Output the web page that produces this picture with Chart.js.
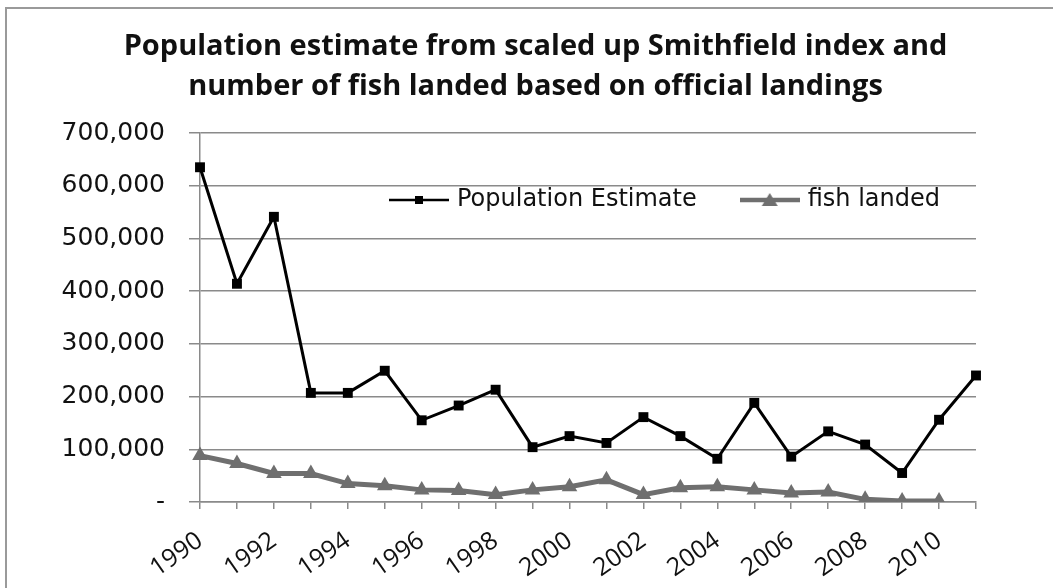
<!DOCTYPE html>
<html>
<head>
<meta charset="utf-8">
<script src="https://cdn.jsdelivr.net/npm/chart.js@4.4.1/dist/chart.umd.min.js"></script>
<style>
  html, body { margin: 0; padding: 0; background: #fff; }
  #wrap { position: relative; width: 1053px; height: 588px; overflow: hidden; }
  #frame { position: absolute; left: 5px; top: 7px; width: 1100px; height: 700px;
           border-left: 2px solid #9a9a9a; border-top: 2px solid #9a9a9a; }
  canvas { position: absolute; left: 0; top: 0; }
</style>
</head>
<body>
<div id="wrap">
  <div id="frame"></div>
  <canvas id="c" width="1053" height="588"></canvas>
</div>
<script>
// ---- data ----
const years = ['1990','1991','1992','1993','1994','1995','1996','1997','1998','1999','2000',
               '2001','2002','2003','2004','2005','2006','2007','2008','2009','2010','2011'];
const populationEstimate = [635000, 414000, 541000, 207000, 207000, 249000, 155000, 183000, 213000, 104000, 125000,
                            112000, 161000, 125000, 82000, 188000, 86000, 134000, 109000, 55000, 156000, 240000];
const fishLanded = [88000, 73000, 54000, 54000, 35000, 31000, 23000, 22000, 14000, 23000, 29000,
                    42000, 14000, 27000, 29000, 23000, 17000, 19000, 5000, 2000, 2000, null];
const xTickLabels = ['1990','1992','1994','1996','1998','2000','2002','2004','2006','2008','2010'];
const yTickValues = [0, 100000, 200000, 300000, 400000, 500000, 600000, 700000];
const seriesNames = ['Population Estimate', 'fish landed'];
const titleLines = ['Population estimate from scaled up Smithfield index and',
                    'number of fish landed based on official landings'];

// ---- styles ----
const GRID = '#8a8a8a';
const POP_COLOR = '#000000';
const FISH_COLOR = '#6f6f6f';
const LEGEND_X = 393, LEGEND_Y = 200, LEGEND_FONT = 24;

function legendSymbol(color, lineW, kind) {
  const cv = document.createElement('canvas');
  cv.width = 60; cv.height = 18;
  const g = cv.getContext('2d');
  g.strokeStyle = color; g.fillStyle = color; g.lineWidth = lineW;
  g.beginPath(); g.moveTo(0, 9); g.lineTo(60, 9); g.stroke();
  if (kind === 'rect') {
    g.fillRect(26, 5, 8, 8);
  } else {
    g.beginPath(); g.moveTo(30, 2); g.lineTo(38, 15); g.lineTo(22, 15); g.closePath(); g.fill();
  }
  return cv;
}
const symbols = [legendSymbol(POP_COLOR, 2.5, 'rect'), legendSymbol(FISH_COLOR, 4.5, 'tri')];

const placeBlocks = {
  id: 'placeBlocks',
  afterLayout(chart) {
    const lg = chart.legend;
    if (lg) {
      const p = lg.options.labels.padding;
      lg.left = LEGEND_X - p;
      lg.right = lg.left + 660;
      lg.top = LEGEND_Y - p - LEGEND_FONT / 2;
      lg.height = 2 * p + LEGEND_FONT + 10;
      lg.bottom = lg.top + lg.height;
    }
    const tb = chart.titleBlock;
    if (tb) { tb.left = 18; tb.right = 1053; }
  }
};

new Chart(document.getElementById('c'), {
  type: 'line',
  data: {
    labels: years,
    datasets: [
      {
        label: seriesNames[0],
        data: populationEstimate,
        borderColor: POP_COLOR,
        backgroundColor: POP_COLOR,
        borderWidth: 3,
        pointStyle: 'rect',
        pointRadius: 7,
        pointBorderWidth: 0,
        pointBackgroundColor: POP_COLOR,
        tension: 0
      },
      {
        label: seriesNames[1],
        data: fishLanded,
        borderColor: FISH_COLOR,
        backgroundColor: FISH_COLOR,
        borderWidth: 5,
        pointStyle: 'triangle',
        pointRadius: 9,
        pointBorderWidth: 0,
        pointBackgroundColor: FISH_COLOR,
        tension: 0,
        spanGaps: false
      }
    ]
  },
  options: {
    responsive: false,
    animation: false,
    devicePixelRatio: 1,
    layout: { padding: { left: 5, right: 77, top: 0, bottom: 0 } },
    plugins: {
      tooltip: { enabled: false },
      title: {
        display: true,
        text: titleLines,
        color: '#111',
        font: { family: 'Open Sans', weight: 'bold', size: 29, lineHeight: '40px' },
        padding: { top: 27, bottom: 25 }
      },
      legend: {
        display: true,
        position: 'top',
        align: 'start',
        maxHeight: 1,
        labels: {
          color: '#111',
          font: { family: 'DejaVu Sans', size: LEGEND_FONT },
          usePointStyle: true,
          pointStyleWidth: 52,
          padding: 47,
          generateLabels(chart) {
            const items = Chart.defaults.plugins.legend.labels.generateLabels(chart);
            items.forEach((it, i) => { it.pointStyle = symbols[i]; });
            return items;
          }
        }
      }
    },
    scales: {
      x: {
        type: 'category',
        offset: false,
        afterFit(scale) { scale.height = 86; },
        grid: { display: true, drawOnChartArea: false, drawTicks: true, tickLength: 7, color: GRID, lineWidth: 1.5 },
        border: { display: true, color: GRID, width: 1.5 },
        ticks: {
          autoSkip: false,
          minRotation: 35,
          maxRotation: 35,
          padding: 17,
          color: '#111',
          font: { family: 'Open Sans', size: 25 },
          callback(value, index) {
            const lab = years[index];
            return xTickLabels.includes(lab) ? lab : '';
          }
        }
      },
      y: {
        min: 0,
        max: 700000,
        afterBuildTicks(scale) { scale.ticks = yTickValues.map(v => ({ value: v })); },
        afterFit(scale) { scale.width = 195; },
        grid: { color: GRID, lineWidth: 1.5, drawTicks: true, tickLength: 11 },
        border: { display: true, color: GRID, width: 1.5 },
        ticks: {
          padding: 24,
          color: '#111',
          font: { family: 'DejaVu Sans', size: 25 },
          callback(value) { return value === 0 ? '-' : value.toLocaleString('en-US'); }
        }
      }
    }
  },
  plugins: [placeBlocks]
});
</script>
</body>
</html>
